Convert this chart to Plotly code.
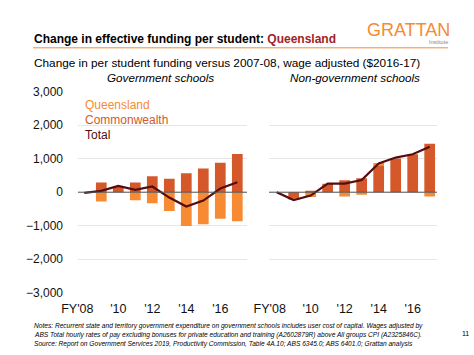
import plotly.graph_objects as go

years = ["FY'08", "FY'09", "FY'10", "FY'11", "FY'12", "FY'13", "FY'14", "FY'15", "FY'16", "FY'17"]
tick_vals = ["FY'08", "FY'10", "FY'12", "FY'14", "FY'16"]
tick_text = ["FY'08\u00a0\u00a0\u00a0\u00a0", "'10", "'12", "'14", "'16"]

# Government schools
gov_qld = [0, -280, 0, -240, -330, -560, -1010, -960, -790, -870]
gov_cwth = [0, 290, 180, 290, 480, 400, 570, 705, 880, 1145]
gov_total = [-20, 40, 190, 70, 170, -160, -430, -250, 110, 295]

# Non-government schools
ng_qld = [0, -30, -140, 0, -125, -75, 95, 0, 0, -125]
ng_cwth = [0, -170, 45, 255, 360, 415, 780, 1010, 1135, 1450]
ng_total = [0, -235, -100, 255, 255, 365, 860, 1035, 1135, 1360]

y_ticks = [3000, 2000, 1000, 0, -1000, -2000, -3000]

C_QLD = "#F68B33"
C_CW = "#D4582A"
C_TOT = "#560D0F"
FONT = "Liberation Sans, Arial, sans-serif"

W, H = 474, 355
def px(x):
    return x / W
def py(y):
    return 1 - y / H

fig = go.Figure()

for xa, ya, qld, cw, tot in [("x", "y", gov_qld, gov_cwth, gov_total),
                              ("x2", "y2", ng_qld, ng_cwth, ng_total)]:
    fig.add_trace(go.Bar(x=years, y=cw, marker_color=C_CW, marker_line_width=0,
                         xaxis=xa, yaxis=ya, width=0.63, showlegend=False, name="Commonwealth"))
    fig.add_trace(go.Bar(x=years, y=qld, marker_color=C_QLD, marker_line_width=0,
                         xaxis=xa, yaxis=ya, width=0.63, showlegend=False, name="Queensland"))
    fig.add_trace(go.Scatter(x=years, y=tot, mode="lines", line=dict(color=C_TOT, width=2.2),
                             xaxis=xa, yaxis=ya, showlegend=False, name="Total"))

axis_common_x = dict(type="category", tickvals=tick_vals, ticktext=tick_text,
                     showgrid=False, zeroline=False, showline=False, ticks="",
                     ticklabelstandoff=7,
                     tickfont=dict(family=FONT, size=12.5, color="#111"))
axis_common_y = dict(range=[-3000, 3000], tickvals=y_ticks, showgrid=True,
                     gridcolor="#E6E6E6", gridwidth=1, zeroline=False, showline=False,
                     ticks="", tickfont=dict(family=FONT, size=12, color="#111"))

fig.update_layout(
    width=W, height=H,
    margin=dict(l=0, r=0, t=0, b=0),
    paper_bgcolor="white", plot_bgcolor="white",
    barmode="relative",
    xaxis=dict(domain=[px(78), px(247)], range=[-0.37, 9.57], anchor="y", **axis_common_x),
    xaxis2=dict(domain=[px(269), px(437)], range=[-0.45, 9.43], anchor="y2", **axis_common_x),
    yaxis=dict(domain=[py(297.3), py(88.3)], anchor="x", tickformat=",", showticklabels=True,
               ticklabelstandoff=14, **axis_common_y),
    yaxis2=dict(domain=[py(297.3), py(88.3)], anchor="x2", showticklabels=False, **axis_common_y),
)

# zero lines above bars
for xr, yr in [("x domain", "y"), ("x2 domain", "y2")]:
    fig.add_shape(type="line", xref=xr, yref=yr, x0=0, x1=1, y0=0, y1=0,
                  line=dict(color="#555555", width=1), layer="above")

# orange rule under title
fig.add_shape(type="line", xref="paper", yref="paper", x0=px(33), x1=px(448),
              y0=py(42.5), y1=py(42.5), line=dict(color=C_QLD, width=1))

ann = []
ann.append(dict(text="<b>Change in effective funding per student: <span style='color:#A02226'>Queensland</span></b>",
                x=px(32), y=py(33), xanchor="left", yanchor="middle",
                font=dict(family=FONT, size=12, color="#000")))
ann.append(dict(text="Change in per student funding versus 2007-08, wage adjusted ($2016-17)",
                x=px(32), y=py(58), xanchor="left", yanchor="middle",
                font=dict(family=FONT, size=11.8, color="#000")))
ann.append(dict(text="<i>Government schools</i>", x=px(160), y=py(73.5), xanchor="center", yanchor="middle",
                font=dict(family=FONT, size=11.7, color="#000")))
ann.append(dict(text="<i>Non-government schools</i>", x=px(355), y=py(73.5), xanchor="center", yanchor="middle",
                font=dict(family=FONT, size=11.7, color="#000")))
# legend labels
for label, col, yy in [("Queensland", C_QLD, 102.5), ("Commonwealth", C_CW, 118), ("Total", C_TOT, 133.5)]:
    ann.append(dict(text=label, x=px(83), y=py(yy), xanchor="left", yanchor="middle",
                    font=dict(family=FONT, size=12, color=col)))
# logo
ann.append(dict(text="GRATTAN", x=px(452), y=py(23.5), xanchor="right", yanchor="middle",
                font=dict(family=FONT, size=18, color=C_QLD)))
ann.append(dict(text="Institute", x=px(450), y=py(36), xanchor="right", yanchor="middle",
                font=dict(family=FONT, size=5.5, color="#888")))
# notes
notes = ["Notes: Recurrent state and territory government expenditure on government schools includes user cost of capital. Wages adjusted by",
         "ABS Total hourly rates of pay excluding bonuses for private education and training (A2602879R) above All groups CPI (A2325846C).",
         "Source: Report on Government Services 2019, Productivity Commission, Table 4A.10; ABS 6345.0; ABS 6401.0; Grattan analysis"]
for i, line in enumerate(notes):
    ann.append(dict(text="<i>" + line + "</i>", x=px(32), y=py(332 + 9.2 * i), xanchor="left", yanchor="middle",
                    font=dict(family=FONT, size=6.6, color="#000")))
ann.append(dict(text="11", x=px(465), y=py(340), xanchor="center", yanchor="middle",
                font=dict(family=FONT, size=7, color="#000")))

for a in ann:
    a.update(xref="paper", yref="paper", showarrow=False)
fig.update_layout(annotations=ann)

fig.write_html("out.html", config={"displayModeBar": False},
               post_script="document.body.style.margin='0';document.body.style.overflow='hidden';")
